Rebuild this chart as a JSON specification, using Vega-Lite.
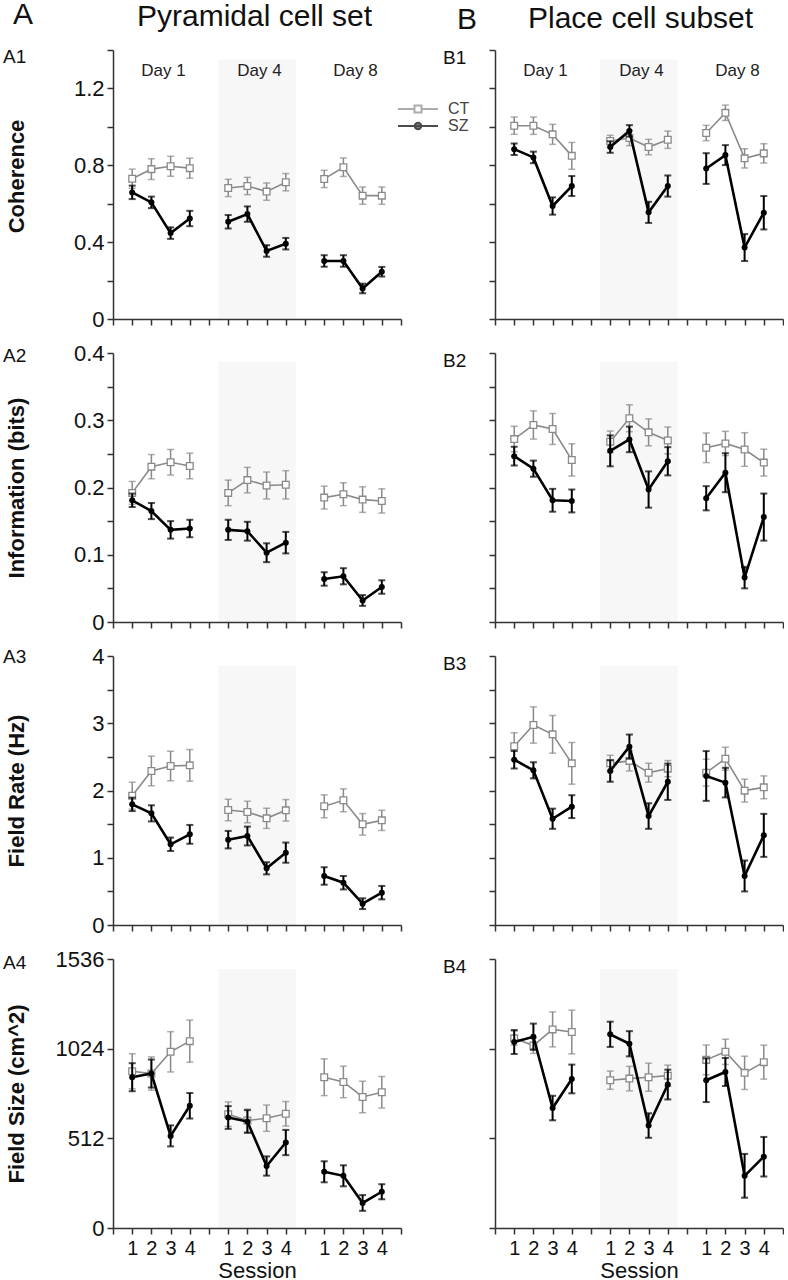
{
"$schema":"https://vega.github.io/schema/vega-lite/v6.json",
"padding":{"left":3,"top":0,"right":0,"bottom":0},
"autosize":{"type":"pad"},
"datasets":{"d":[
{"p":"A1","s":"1-1","d":"Day 1","g":"CT","v":0.73,"e":0.05},{"p":"A1","s":"1-2","d":"Day 1","g":"CT","v":0.78,"e":0.054},{"p":"A1","s":"1-3","d":"Day 1","g":"CT","v":0.795,"e":0.052},{"p":"A1","s":"1-4","d":"Day 1","g":"CT","v":0.785,"e":0.052},
{"p":"A1","s":"4-1","d":"Day 4","g":"CT","v":0.682,"e":0.045},{"p":"A1","s":"4-2","d":"Day 4","g":"CT","v":0.692,"e":0.045},{"p":"A1","s":"4-3","d":"Day 4","g":"CT","v":0.663,"e":0.045},{"p":"A1","s":"4-4","d":"Day 4","g":"CT","v":0.712,"e":0.045},
{"p":"A1","s":"8-1","d":"Day 8","g":"CT","v":0.729,"e":0.045},{"p":"A1","s":"8-2","d":"Day 8","g":"CT","v":0.79,"e":0.048},{"p":"A1","s":"8-3","d":"Day 8","g":"CT","v":0.642,"e":0.045},{"p":"A1","s":"8-4","d":"Day 8","g":"CT","v":0.642,"e":0.045},
{"p":"A1","s":"1-1","d":"Day 1","g":"SZ","v":0.659,"e":0.035},{"p":"A1","s":"1-2","d":"Day 1","g":"SZ","v":0.607,"e":0.03},{"p":"A1","s":"1-3","d":"Day 1","g":"SZ","v":0.447,"e":0.03},{"p":"A1","s":"1-4","d":"Day 1","g":"SZ","v":0.523,"e":0.04},
{"p":"A1","s":"4-1","d":"Day 4","g":"SZ","v":0.506,"e":0.035},{"p":"A1","s":"4-2","d":"Day 4","g":"SZ","v":0.546,"e":0.04},{"p":"A1","s":"4-3","d":"Day 4","g":"SZ","v":0.354,"e":0.03},{"p":"A1","s":"4-4","d":"Day 4","g":"SZ","v":0.392,"e":0.03},
{"p":"A1","s":"8-1","d":"Day 8","g":"SZ","v":0.302,"e":0.03},{"p":"A1","s":"8-2","d":"Day 8","g":"SZ","v":0.302,"e":0.03},{"p":"A1","s":"8-3","d":"Day 8","g":"SZ","v":0.159,"e":0.025},{"p":"A1","s":"8-4","d":"Day 8","g":"SZ","v":0.246,"e":0.025},
{"p":"B1","s":"1-1","d":"Day 1","g":"CT","v":1.006,"e":0.045},{"p":"B1","s":"1-2","d":"Day 1","g":"CT","v":1.006,"e":0.045},{"p":"B1","s":"1-3","d":"Day 1","g":"CT","v":0.961,"e":0.052},{"p":"B1","s":"1-4","d":"Day 1","g":"CT","v":0.849,"e":0.07},
{"p":"B1","s":"4-1","d":"Day 4","g":"CT","v":0.926,"e":0.03},{"p":"B1","s":"4-2","d":"Day 4","g":"CT","v":0.942,"e":0.04},{"p":"B1","s":"4-3","d":"Day 4","g":"CT","v":0.895,"e":0.04},{"p":"B1","s":"4-4","d":"Day 4","g":"CT","v":0.933,"e":0.045},
{"p":"B1","s":"8-1","d":"Day 8","g":"CT","v":0.968,"e":0.04},{"p":"B1","s":"8-2","d":"Day 8","g":"CT","v":1.073,"e":0.04},{"p":"B1","s":"8-3","d":"Day 8","g":"CT","v":0.836,"e":0.05},{"p":"B1","s":"8-4","d":"Day 8","g":"CT","v":0.862,"e":0.05},
{"p":"B1","s":"1-1","d":"Day 1","g":"SZ","v":0.884,"e":0.03},{"p":"B1","s":"1-2","d":"Day 1","g":"SZ","v":0.841,"e":0.03},{"p":"B1","s":"1-3","d":"Day 1","g":"SZ","v":0.588,"e":0.045},{"p":"B1","s":"1-4","d":"Day 1","g":"SZ","v":0.692,"e":0.052},
{"p":"B1","s":"4-1","d":"Day 4","g":"SZ","v":0.895,"e":0.03},{"p":"B1","s":"4-2","d":"Day 4","g":"SZ","v":0.979,"e":0.03},{"p":"B1","s":"4-3","d":"Day 4","g":"SZ","v":0.555,"e":0.055},{"p":"B1","s":"4-4","d":"Day 4","g":"SZ","v":0.692,"e":0.055},
{"p":"B1","s":"8-1","d":"Day 8","g":"SZ","v":0.783,"e":0.08},{"p":"B1","s":"8-2","d":"Day 8","g":"SZ","v":0.853,"e":0.052},{"p":"B1","s":"8-3","d":"Day 8","g":"SZ","v":0.372,"e":0.07},{"p":"B1","s":"8-4","d":"Day 8","g":"SZ","v":0.553,"e":0.087},
{"p":"A2","s":"1-1","d":"Day 1","g":"CT","v":0.192,"e":0.017},{"p":"A2","s":"1-2","d":"Day 1","g":"CT","v":0.231,"e":0.018},{"p":"A2","s":"1-3","d":"Day 1","g":"CT","v":0.2375,"e":0.019},{"p":"A2","s":"1-4","d":"Day 1","g":"CT","v":0.232,"e":0.019},
{"p":"A2","s":"4-1","d":"Day 4","g":"CT","v":0.192,"e":0.019},{"p":"A2","s":"4-2","d":"Day 4","g":"CT","v":0.211,"e":0.019},{"p":"A2","s":"4-3","d":"Day 4","g":"CT","v":0.203,"e":0.02},{"p":"A2","s":"4-4","d":"Day 4","g":"CT","v":0.204,"e":0.021},
{"p":"A2","s":"8-1","d":"Day 8","g":"CT","v":0.185,"e":0.017},{"p":"A2","s":"8-2","d":"Day 8","g":"CT","v":0.19,"e":0.017},{"p":"A2","s":"8-3","d":"Day 8","g":"CT","v":0.182,"e":0.019},{"p":"A2","s":"8-4","d":"Day 8","g":"CT","v":0.18,"e":0.018},
{"p":"A2","s":"1-1","d":"Day 1","g":"SZ","v":0.181,"e":0.01},{"p":"A2","s":"1-2","d":"Day 1","g":"SZ","v":0.165,"e":0.012},{"p":"A2","s":"1-3","d":"Day 1","g":"SZ","v":0.137,"e":0.013},{"p":"A2","s":"1-4","d":"Day 1","g":"SZ","v":0.139,"e":0.013},
{"p":"A2","s":"4-1","d":"Day 4","g":"SZ","v":0.137,"e":0.015},{"p":"A2","s":"4-2","d":"Day 4","g":"SZ","v":0.135,"e":0.014},{"p":"A2","s":"4-3","d":"Day 4","g":"SZ","v":0.103,"e":0.014},{"p":"A2","s":"4-4","d":"Day 4","g":"SZ","v":0.118,"e":0.016},
{"p":"A2","s":"8-1","d":"Day 8","g":"SZ","v":0.064,"e":0.01},{"p":"A2","s":"8-2","d":"Day 8","g":"SZ","v":0.068,"e":0.012},{"p":"A2","s":"8-3","d":"Day 8","g":"SZ","v":0.032,"e":0.008},{"p":"A2","s":"8-4","d":"Day 8","g":"SZ","v":0.052,"e":0.01},
{"p":"B2","s":"1-1","d":"Day 1","g":"CT","v":0.272,"e":0.019},{"p":"B2","s":"1-2","d":"Day 1","g":"CT","v":0.293,"e":0.021},{"p":"B2","s":"1-3","d":"Day 1","g":"CT","v":0.287,"e":0.023},{"p":"B2","s":"1-4","d":"Day 1","g":"CT","v":0.241,"e":0.024},
{"p":"B2","s":"4-1","d":"Day 4","g":"CT","v":0.268,"e":0.016},{"p":"B2","s":"4-2","d":"Day 4","g":"CT","v":0.303,"e":0.02},{"p":"B2","s":"4-3","d":"Day 4","g":"CT","v":0.282,"e":0.02},{"p":"B2","s":"4-4","d":"Day 4","g":"CT","v":0.27,"e":0.02},
{"p":"B2","s":"8-1","d":"Day 8","g":"CT","v":0.259,"e":0.022},{"p":"B2","s":"8-2","d":"Day 8","g":"CT","v":0.2655,"e":0.018},{"p":"B2","s":"8-3","d":"Day 8","g":"CT","v":0.2565,"e":0.025},{"p":"B2","s":"8-4","d":"Day 8","g":"CT","v":0.237,"e":0.02},
{"p":"B2","s":"1-1","d":"Day 1","g":"SZ","v":0.2466,"e":0.014},{"p":"B2","s":"1-2","d":"Day 1","g":"SZ","v":0.228,"e":0.012},{"p":"B2","s":"1-3","d":"Day 1","g":"SZ","v":0.181,"e":0.017},{"p":"B2","s":"1-4","d":"Day 1","g":"SZ","v":0.18,"e":0.017},
{"p":"B2","s":"4-1","d":"Day 4","g":"SZ","v":0.2545,"e":0.023},{"p":"B2","s":"4-2","d":"Day 4","g":"SZ","v":0.2715,"e":0.019},{"p":"B2","s":"4-3","d":"Day 4","g":"SZ","v":0.197,"e":0.027},{"p":"B2","s":"4-4","d":"Day 4","g":"SZ","v":0.239,"e":0.021},
{"p":"B2","s":"8-1","d":"Day 8","g":"SZ","v":0.184,"e":0.018},{"p":"B2","s":"8-2","d":"Day 8","g":"SZ","v":0.222,"e":0.029},{"p":"B2","s":"8-3","d":"Day 8","g":"SZ","v":0.066,"e":0.016},{"p":"B2","s":"8-4","d":"Day 8","g":"SZ","v":0.156,"e":0.035},
{"p":"A3","s":"1-1","d":"Day 1","g":"CT","v":1.923,"e":0.2},{"p":"A3","s":"1-2","d":"Day 1","g":"CT","v":2.29,"e":0.22},{"p":"A3","s":"1-3","d":"Day 1","g":"CT","v":2.364,"e":0.22},{"p":"A3","s":"1-4","d":"Day 1","g":"CT","v":2.374,"e":0.235},
{"p":"A3","s":"4-1","d":"Day 4","g":"CT","v":1.71,"e":0.16},{"p":"A3","s":"4-2","d":"Day 4","g":"CT","v":1.68,"e":0.16},{"p":"A3","s":"4-3","d":"Day 4","g":"CT","v":1.586,"e":0.15},{"p":"A3","s":"4-4","d":"Day 4","g":"CT","v":1.705,"e":0.16},
{"p":"A3","s":"8-1","d":"Day 8","g":"CT","v":1.765,"e":0.17},{"p":"A3","s":"8-2","d":"Day 8","g":"CT","v":1.854,"e":0.17},{"p":"A3","s":"8-3","d":"Day 8","g":"CT","v":1.497,"e":0.16},{"p":"A3","s":"8-4","d":"Day 8","g":"CT","v":1.556,"e":0.15},
{"p":"A3","s":"1-1","d":"Day 1","g":"SZ","v":1.794,"e":0.1},{"p":"A3","s":"1-2","d":"Day 1","g":"SZ","v":1.66,"e":0.12},{"p":"A3","s":"1-3","d":"Day 1","g":"SZ","v":1.2,"e":0.1},{"p":"A3","s":"1-4","d":"Day 1","g":"SZ","v":1.348,"e":0.14},
{"p":"A3","s":"4-1","d":"Day 4","g":"SZ","v":1.269,"e":0.13},{"p":"A3","s":"4-2","d":"Day 4","g":"SZ","v":1.323,"e":0.14},{"p":"A3","s":"4-3","d":"Day 4","g":"SZ","v":0.843,"e":0.09},{"p":"A3","s":"4-4","d":"Day 4","g":"SZ","v":1.076,"e":0.15},
{"p":"A3","s":"8-1","d":"Day 8","g":"SZ","v":0.729,"e":0.13},{"p":"A3","s":"8-2","d":"Day 8","g":"SZ","v":0.629,"e":0.1},{"p":"A3","s":"8-3","d":"Day 8","g":"SZ","v":0.317,"e":0.08},{"p":"A3","s":"8-4","d":"Day 8","g":"SZ","v":0.481,"e":0.1},
{"p":"B3","s":"1-1","d":"Day 1","g":"CT","v":2.657,"e":0.2},{"p":"B3","s":"1-2","d":"Day 1","g":"CT","v":2.974,"e":0.27},{"p":"B3","s":"1-3","d":"Day 1","g":"CT","v":2.835,"e":0.28},{"p":"B3","s":"1-4","d":"Day 1","g":"CT","v":2.404,"e":0.31},
{"p":"B3","s":"4-1","d":"Day 4","g":"CT","v":2.404,"e":0.12},{"p":"B3","s":"4-2","d":"Day 4","g":"CT","v":2.44,"e":0.15},{"p":"B3","s":"4-3","d":"Day 4","g":"CT","v":2.265,"e":0.14},{"p":"B3","s":"4-4","d":"Day 4","g":"CT","v":2.325,"e":0.12},
{"p":"B3","s":"8-1","d":"Day 8","g":"CT","v":2.265,"e":0.2},{"p":"B3","s":"8-2","d":"Day 8","g":"CT","v":2.473,"e":0.17},{"p":"B3","s":"8-3","d":"Day 8","g":"CT","v":1.998,"e":0.17},{"p":"B3","s":"8-4","d":"Day 8","g":"CT","v":2.047,"e":0.17},
{"p":"B3","s":"1-1","d":"Day 1","g":"SZ","v":2.458,"e":0.13},{"p":"B3","s":"1-2","d":"Day 1","g":"SZ","v":2.3,"e":0.12},{"p":"B3","s":"1-3","d":"Day 1","g":"SZ","v":1.58,"e":0.15},{"p":"B3","s":"1-4","d":"Day 1","g":"SZ","v":1.76,"e":0.17},
{"p":"B3","s":"4-1","d":"Day 4","g":"SZ","v":2.29,"e":0.16},{"p":"B3","s":"4-2","d":"Day 4","g":"SZ","v":2.652,"e":0.18},{"p":"B3","s":"4-3","d":"Day 4","g":"SZ","v":1.62,"e":0.19},{"p":"B3","s":"4-4","d":"Day 4","g":"SZ","v":2.13,"e":0.27},
{"p":"B3","s":"8-1","d":"Day 8","g":"SZ","v":2.216,"e":0.37},{"p":"B3","s":"8-2","d":"Day 8","g":"SZ","v":2.117,"e":0.22},{"p":"B3","s":"8-3","d":"Day 8","g":"SZ","v":0.729,"e":0.23},{"p":"B3","s":"8-4","d":"Day 8","g":"SZ","v":1.333,"e":0.32},
{"p":"A4","s":"1-1","d":"Day 1","g":"CT","v":895,"e":100},{"p":"A4","s":"1-2","d":"Day 1","g":"CT","v":882,"e":95},{"p":"A4","s":"1-3","d":"Day 1","g":"CT","v":1006,"e":115},{"p":"A4","s":"1-4","d":"Day 1","g":"CT","v":1067,"e":120},
{"p":"A4","s":"4-1","d":"Day 4","g":"CT","v":650,"e":70},{"p":"A4","s":"4-2","d":"Day 4","g":"CT","v":614,"e":65},{"p":"A4","s":"4-3","d":"Day 4","g":"CT","v":627,"e":75},{"p":"A4","s":"4-4","d":"Day 4","g":"CT","v":652,"e":70},
{"p":"A4","s":"8-1","d":"Day 8","g":"CT","v":861,"e":105},{"p":"A4","s":"8-2","d":"Day 8","g":"CT","v":834,"e":90},{"p":"A4","s":"8-3","d":"Day 8","g":"CT","v":748,"e":90},{"p":"A4","s":"8-4","d":"Day 8","g":"CT","v":775,"e":90},
{"p":"A4","s":"1-1","d":"Day 1","g":"SZ","v":861,"e":80},{"p":"A4","s":"1-2","d":"Day 1","g":"SZ","v":882,"e":80},{"p":"A4","s":"1-3","d":"Day 1","g":"SZ","v":526,"e":60},{"p":"A4","s":"1-4","d":"Day 1","g":"SZ","v":698,"e":73},
{"p":"A4","s":"4-1","d":"Day 4","g":"SZ","v":631,"e":65},{"p":"A4","s":"4-2","d":"Day 4","g":"SZ","v":608,"e":65},{"p":"A4","s":"4-3","d":"Day 4","g":"SZ","v":354,"e":55},{"p":"A4","s":"4-4","d":"Day 4","g":"SZ","v":488,"e":72},
{"p":"A4","s":"8-1","d":"Day 8","g":"SZ","v":321,"e":60},{"p":"A4","s":"8-2","d":"Day 8","g":"SZ","v":298,"e":60},{"p":"A4","s":"8-3","d":"Day 8","g":"SZ","v":143,"e":45},{"p":"A4","s":"8-4","d":"Day 8","g":"SZ","v":207,"e":43},
{"p":"B4","s":"1-1","d":"Day 1","g":"CT","v":1083,"e":40},{"p":"B4","s":"1-2","d":"Day 1","g":"CT","v":1042,"e":45},{"p":"B4","s":"1-3","d":"Day 1","g":"CT","v":1134,"e":100},{"p":"B4","s":"1-4","d":"Day 1","g":"CT","v":1119,"e":125},
{"p":"B4","s":"4-1","d":"Day 4","g":"CT","v":844,"e":52},{"p":"B4","s":"4-2","d":"Day 4","g":"CT","v":853,"e":70},{"p":"B4","s":"4-3","d":"Day 4","g":"CT","v":861,"e":80},{"p":"B4","s":"4-4","d":"Day 4","g":"CT","v":870,"e":60},
{"p":"B4","s":"8-1","d":"Day 8","g":"CT","v":960,"e":85},{"p":"B4","s":"8-2","d":"Day 8","g":"CT","v":1006,"e":72},{"p":"B4","s":"8-3","d":"Day 8","g":"CT","v":886,"e":95},{"p":"B4","s":"8-4","d":"Day 8","g":"CT","v":947,"e":97},
{"p":"B4","s":"1-1","d":"Day 1","g":"SZ","v":1062,"e":68},{"p":"B4","s":"1-2","d":"Day 1","g":"SZ","v":1092,"e":75},{"p":"B4","s":"1-3","d":"Day 1","g":"SZ","v":685,"e":70},{"p":"B4","s":"1-4","d":"Day 1","g":"SZ","v":851,"e":82},
{"p":"B4","s":"4-1","d":"Day 4","g":"SZ","v":1106,"e":72},{"p":"B4","s":"4-2","d":"Day 4","g":"SZ","v":1052,"e":72},{"p":"B4","s":"4-3","d":"Day 4","g":"SZ","v":585,"e":70},{"p":"B4","s":"4-4","d":"Day 4","g":"SZ","v":819,"e":85},
{"p":"B4","s":"8-1","d":"Day 8","g":"SZ","v":844,"e":125},{"p":"B4","s":"8-2","d":"Day 8","g":"SZ","v":891,"e":80},{"p":"B4","s":"8-3","d":"Day 8","g":"SZ","v":298,"e":125},{"p":"B4","s":"8-4","d":"Day 8","g":"SZ","v":407,"e":113}
]},
"spacing":382,
"bounds":"flush",
"hconcat":[
{"title":{"text":"A","anchor":"start","frame":"group","fontSize":30,"baseline":"alphabetic","dx":-100,"dy":52,"offset":0},
 "bounds":"flush","spacing":0,
 "vconcat":[
 {"title":{"text":"Pyramidal cell set","anchor":"start","frame":"group","fontSize":30,"baseline":"alphabetic","dx":24,"dy":41,"offset":24},
  "bounds":"flush","spacing":34,
  "vconcat":[
  {"width":288,"height":269,
   "title":{"text":"A1","anchor":"start","frame":"group","dx":-110,"dy":28,"fontSize":19,"baseline":"top","offset":0},
   "data":{"name":"d"},"transform":[{"filter":"datum.p=='A1'"}],
   "encoding":{
    "x":{"field":"s","type":"ordinal","scale":{"type":"point","padding":0,"domain":["0","1-1","1-2","1-3","1-4","g1","4-1","4-2","4-3","4-4","g2","8-1","8-2","8-3","8-4","15"]},"axis":{"labels":false,"title":null}},
    "y":{"field":"v","type":"quantitative","scale":{"domain":[0,1.4],"nice":false},"axis":{"values":[0,0.2,0.4,0.6,0.8,1,1.2,1.4],"labelExpr":"datum.value==0 ? '0' : (indexof([0.4,0.8,1.2], datum.value)>=0 ? format(datum.value,'.1f') : '')","title":"Coherence","titleY":126}}},
   "layer":[
    {"transform":[{"filter":"datum.d=='Day 4' && datum.g=='CT'"}],"mark":{"type":"rect","color":"#f7f7f7","width":19.8},"encoding":{"y":{"datum":1.35,"type":"quantitative"},"y2":{"datum":0}}},
    {"transform":[{"filter":"datum.g=='CT'"}],"mark":{"type":"line","color":"#8a8a8a","strokeWidth":1.6},"encoding":{"detail":{"field":"d"}}},
    {"transform":[{"filter":"datum.g=='CT'"}],"mark":{"type":"errorbar","color":"#8a8a8a","thickness":1.5,"ticks":{"size":7}},"encoding":{"yError":{"field":"e"}}},
    {"transform":[{"filter":"datum.g=='CT'"}],"mark":{"type":"point","shape":"square","filled":true,"fill":"#ffffff","stroke":"#8a8a8a","strokeWidth":1.3,"size":45,"opacity":1}},
    {"transform":[{"filter":"datum.g=='SZ'"}],"mark":{"type":"line","color":"#000000","strokeWidth":2.6},"encoding":{"detail":{"field":"d"}}},
    {"transform":[{"filter":"datum.g=='SZ'"}],"mark":{"type":"errorbar","color":"#000000","thickness":2,"ticks":{"size":7}},"encoding":{"yError":{"field":"e"}}},
    {"transform":[{"filter":"datum.g=='SZ'"}],"mark":{"type":"point","shape":"circle","filled":true,"color":"#000000","size":36,"opacity":1}},
    {"transform":[{"filter":"datum.g=='CT' && indexof(['1-2','4-2','8-2'], datum.s)>=0"}],"mark":{"type":"text","fontSize":17,"color":"#222222","dx":12,"baseline":"middle"},"encoding":{"y":{"datum":1.29,"type":"quantitative"},"text":{"field":"d"}}},
    {"transform":[{"filter":"false"}],"mark":{"type":"point","filled":true},
     "encoding":{
      "shape":{"field":"g","type":"nominal","scale":{"domain":["CT","SZ"],"range":["M-4,0H-0.7M0.7,0H4M-0.7,-0.7H0.7V0.7H-0.7Z","M-4,0H4M0.65,0A0.65,0.65 0 1,1 -0.65,0A0.65,0.65 0 1,1 0.65,0Z"]},"legend":{"title":null,"orient":"none","legendX":297,"legendY":51,"symbolStrokeWidth":2,"symbolSize":100,"labelFontSize":16,"labelColor":"#444444","labelOffset":22,"rowPadding":1,"padding":0}},
      "stroke":{"field":"g","type":"nominal","scale":{"domain":["CT","SZ"],"range":["#8a8a8a","#000000"]},"legend":{"title":null,"orient":"none","legendX":297,"legendY":51,"symbolStrokeWidth":2,"symbolSize":100,"labelFontSize":16,"labelColor":"#444444","labelOffset":22,"rowPadding":1,"padding":0}},
      "fill":{"field":"g","type":"nominal","scale":{"domain":["CT","SZ"],"range":["#ffffff","#000000"]},"legend":{"title":null,"orient":"none","legendX":297,"legendY":51,"symbolStrokeWidth":2,"symbolSize":100,"labelFontSize":16,"labelColor":"#444444","labelOffset":22,"rowPadding":1,"padding":0}}}}
   ]},
  {"width":288,"height":269,
   "title":{"text":"A2","anchor":"start","frame":"group","dx":-110,"dy":24,"fontSize":19,"baseline":"top","offset":0},
   "data":{"name":"d"},"transform":[{"filter":"datum.p=='A2'"}],
   "encoding":{
    "x":{"field":"s","type":"ordinal","scale":{"type":"point","padding":0,"domain":["0","1-1","1-2","1-3","1-4","g1","4-1","4-2","4-3","4-4","g2","8-1","8-2","8-3","8-4","15"]},"axis":{"labels":false,"title":null}},
    "y":{"field":"v","type":"quantitative","scale":{"domain":[0,0.4],"nice":false},"axis":{"values":[0,0.05,0.1,0.15,0.2,0.25,0.3,0.35,0.4],"labelExpr":"datum.value==0 ? '0' : (indexof([0.1,0.2,0.3,0.4], datum.value)>=0 ? format(datum.value,'.1f') : '')","title":"Information (bits)"}}},
   "layer":[
    {"transform":[{"filter":"datum.d=='Day 4' && datum.g=='CT'"}],"mark":{"type":"rect","color":"#f7f7f7","width":19.8},"encoding":{"y":{"datum":0.387,"type":"quantitative"},"y2":{"datum":0}}},
    {"transform":[{"filter":"datum.g=='CT'"}],"mark":{"type":"line","color":"#8a8a8a","strokeWidth":1.6},"encoding":{"detail":{"field":"d"}}},
    {"transform":[{"filter":"datum.g=='CT'"}],"mark":{"type":"errorbar","color":"#8a8a8a","thickness":1.5,"ticks":{"size":7}},"encoding":{"yError":{"field":"e"}}},
    {"transform":[{"filter":"datum.g=='CT'"}],"mark":{"type":"point","shape":"square","filled":true,"fill":"#ffffff","stroke":"#8a8a8a","strokeWidth":1.3,"size":45,"opacity":1}},
    {"transform":[{"filter":"datum.g=='SZ'"}],"mark":{"type":"line","color":"#000000","strokeWidth":2.6},"encoding":{"detail":{"field":"d"}}},
    {"transform":[{"filter":"datum.g=='SZ'"}],"mark":{"type":"errorbar","color":"#000000","thickness":2,"ticks":{"size":7}},"encoding":{"yError":{"field":"e"}}},
    {"transform":[{"filter":"datum.g=='SZ'"}],"mark":{"type":"point","shape":"circle","filled":true,"color":"#000000","size":36,"opacity":1}}
   ]},
  {"width":288,"height":269,
   "title":{"text":"A3","anchor":"start","frame":"group","dx":-110,"dy":22,"fontSize":19,"baseline":"top","offset":0},
   "data":{"name":"d"},"transform":[{"filter":"datum.p=='A3'"}],
   "encoding":{
    "x":{"field":"s","type":"ordinal","scale":{"type":"point","padding":0,"domain":["0","1-1","1-2","1-3","1-4","g1","4-1","4-2","4-3","4-4","g2","8-1","8-2","8-3","8-4","15"]},"axis":{"labels":false,"title":null}},
    "y":{"field":"v","type":"quantitative","scale":{"domain":[0,4],"nice":false},"axis":{"values":[0,0.5,1,1.5,2,2.5,3,3.5,4],"labelExpr":"datum.value%1==0 ? format(datum.value,'d') : ''","title":"Field Rate (Hz)"}}},
   "layer":[
    {"transform":[{"filter":"datum.d=='Day 4' && datum.g=='CT'"}],"mark":{"type":"rect","color":"#f7f7f7","width":19.8},"encoding":{"y":{"datum":3.85,"type":"quantitative"},"y2":{"datum":0}}},
    {"transform":[{"filter":"datum.g=='CT'"}],"mark":{"type":"line","color":"#8a8a8a","strokeWidth":1.6},"encoding":{"detail":{"field":"d"}}},
    {"transform":[{"filter":"datum.g=='CT'"}],"mark":{"type":"errorbar","color":"#8a8a8a","thickness":1.5,"ticks":{"size":7}},"encoding":{"yError":{"field":"e"}}},
    {"transform":[{"filter":"datum.g=='CT'"}],"mark":{"type":"point","shape":"square","filled":true,"fill":"#ffffff","stroke":"#8a8a8a","strokeWidth":1.3,"size":45,"opacity":1}},
    {"transform":[{"filter":"datum.g=='SZ'"}],"mark":{"type":"line","color":"#000000","strokeWidth":2.6},"encoding":{"detail":{"field":"d"}}},
    {"transform":[{"filter":"datum.g=='SZ'"}],"mark":{"type":"errorbar","color":"#000000","thickness":2,"ticks":{"size":7}},"encoding":{"yError":{"field":"e"}}},
    {"transform":[{"filter":"datum.g=='SZ'"}],"mark":{"type":"point","shape":"circle","filled":true,"color":"#000000","size":36,"opacity":1}}
   ]},
  {"width":288,"height":269,
   "title":{"text":"A4","anchor":"start","frame":"group","dx":-110,"dy":25,"fontSize":19,"baseline":"top","offset":0},
   "data":{"name":"d"},"transform":[{"filter":"datum.p=='A4'"}],
   "encoding":{
    "x":{"field":"s","type":"ordinal","scale":{"type":"point","padding":0,"domain":["0","1-1","1-2","1-3","1-4","g1","4-1","4-2","4-3","4-4","g2","8-1","8-2","8-3","8-4","15"]},"axis":{"labelExpr":"indexof(datum.value,'-')>0 ? substring(datum.value, indexof(datum.value,'-')+1) : ''","title":"Session"}},
    "y":{"field":"v","type":"quantitative","scale":{"domain":[0,1536],"nice":false},"axis":{"values":[0,512,1024,1536],"format":"d","title":"Field Size (cm^2)"}}},
   "layer":[
    {"transform":[{"filter":"datum.d=='Day 4' && datum.g=='CT'"}],"mark":{"type":"rect","color":"#f7f7f7","width":19.8},"encoding":{"y":{"datum":1479,"type":"quantitative"},"y2":{"datum":0}}},
    {"transform":[{"filter":"datum.g=='CT'"}],"mark":{"type":"line","color":"#8a8a8a","strokeWidth":1.6},"encoding":{"detail":{"field":"d"}}},
    {"transform":[{"filter":"datum.g=='CT'"}],"mark":{"type":"errorbar","color":"#8a8a8a","thickness":1.5,"ticks":{"size":7}},"encoding":{"yError":{"field":"e"}}},
    {"transform":[{"filter":"datum.g=='CT'"}],"mark":{"type":"point","shape":"square","filled":true,"fill":"#ffffff","stroke":"#8a8a8a","strokeWidth":1.3,"size":45,"opacity":1}},
    {"transform":[{"filter":"datum.g=='SZ'"}],"mark":{"type":"line","color":"#000000","strokeWidth":2.6},"encoding":{"detail":{"field":"d"}}},
    {"transform":[{"filter":"datum.g=='SZ'"}],"mark":{"type":"errorbar","color":"#000000","thickness":2,"ticks":{"size":7}},"encoding":{"yError":{"field":"e"}}},
    {"transform":[{"filter":"datum.g=='SZ'"}],"mark":{"type":"point","shape":"circle","filled":true,"color":"#000000","size":36,"opacity":1}}
   ]}
  ]}
 ]},
{"title":{"text":"B","anchor":"start","frame":"group","fontSize":30,"baseline":"alphabetic","dx":-38,"dy":55,"offset":0},
 "bounds":"flush","spacing":0,
 "vconcat":[
 {"title":{"text":"Place cell subset","anchor":"start","frame":"group","fontSize":30,"baseline":"alphabetic","dx":33,"dy":33,"offset":24},
  "bounds":"flush","spacing":34,
  "vconcat":[
  {"width":288,"height":269,
   "title":{"text":"B1","anchor":"start","frame":"group","dx":-52,"dy":19,"fontSize":19,"baseline":"top","offset":0},
   "data":{"name":"d"},"transform":[{"filter":"datum.p=='B1'"}],
   "encoding":{
    "x":{"field":"s","type":"ordinal","scale":{"type":"point","padding":0,"domain":["0","1-1","1-2","1-3","1-4","g1","4-1","4-2","4-3","4-4","g2","8-1","8-2","8-3","8-4","15"]},"axis":{"labels":false,"title":null}},
    "y":{"field":"v","type":"quantitative","scale":{"domain":[0,1.4],"nice":false},"axis":{"values":[0,0.2,0.4,0.6,0.8,1,1.2,1.4],"labels":false,"title":null}}},
   "layer":[
    {"transform":[{"filter":"datum.d=='Day 4' && datum.g=='CT'"}],"mark":{"type":"rect","color":"#f7f7f7","width":19.8},"encoding":{"y":{"datum":1.35,"type":"quantitative"},"y2":{"datum":0}}},
    {"transform":[{"filter":"datum.g=='CT'"}],"mark":{"type":"line","color":"#8a8a8a","strokeWidth":1.6},"encoding":{"detail":{"field":"d"}}},
    {"transform":[{"filter":"datum.g=='CT'"}],"mark":{"type":"errorbar","color":"#8a8a8a","thickness":1.5,"ticks":{"size":7}},"encoding":{"yError":{"field":"e"}}},
    {"transform":[{"filter":"datum.g=='CT'"}],"mark":{"type":"point","shape":"square","filled":true,"fill":"#ffffff","stroke":"#8a8a8a","strokeWidth":1.3,"size":45,"opacity":1}},
    {"transform":[{"filter":"datum.g=='SZ'"}],"mark":{"type":"line","color":"#000000","strokeWidth":2.6},"encoding":{"detail":{"field":"d"}}},
    {"transform":[{"filter":"datum.g=='SZ'"}],"mark":{"type":"errorbar","color":"#000000","thickness":2,"ticks":{"size":7}},"encoding":{"yError":{"field":"e"}}},
    {"transform":[{"filter":"datum.g=='SZ'"}],"mark":{"type":"point","shape":"circle","filled":true,"color":"#000000","size":36,"opacity":1}},
    {"transform":[{"filter":"datum.g=='CT' && indexof(['1-2','4-2','8-2'], datum.s)>=0"}],"mark":{"type":"text","fontSize":17,"color":"#222222","dx":12,"baseline":"middle"},"encoding":{"y":{"datum":1.29,"type":"quantitative"},"text":{"field":"d"}}}
   ]},
  {"width":288,"height":269,
   "title":{"text":"B2","anchor":"start","frame":"group","dx":-52,"dy":19,"fontSize":19,"baseline":"top","offset":0},
   "data":{"name":"d"},"transform":[{"filter":"datum.p=='B2'"}],
   "encoding":{
    "x":{"field":"s","type":"ordinal","scale":{"type":"point","padding":0,"domain":["0","1-1","1-2","1-3","1-4","g1","4-1","4-2","4-3","4-4","g2","8-1","8-2","8-3","8-4","15"]},"axis":{"labels":false,"title":null}},
    "y":{"field":"v","type":"quantitative","scale":{"domain":[0,0.4],"nice":false},"axis":{"values":[0,0.05,0.1,0.15,0.2,0.25,0.3,0.35,0.4],"labels":false,"title":null}}},
   "layer":[
    {"transform":[{"filter":"datum.d=='Day 4' && datum.g=='CT'"}],"mark":{"type":"rect","color":"#f7f7f7","width":19.8},"encoding":{"y":{"datum":0.387,"type":"quantitative"},"y2":{"datum":0}}},
    {"transform":[{"filter":"datum.g=='CT'"}],"mark":{"type":"line","color":"#8a8a8a","strokeWidth":1.6},"encoding":{"detail":{"field":"d"}}},
    {"transform":[{"filter":"datum.g=='CT'"}],"mark":{"type":"errorbar","color":"#8a8a8a","thickness":1.5,"ticks":{"size":7}},"encoding":{"yError":{"field":"e"}}},
    {"transform":[{"filter":"datum.g=='CT'"}],"mark":{"type":"point","shape":"square","filled":true,"fill":"#ffffff","stroke":"#8a8a8a","strokeWidth":1.3,"size":45,"opacity":1}},
    {"transform":[{"filter":"datum.g=='SZ'"}],"mark":{"type":"line","color":"#000000","strokeWidth":2.6},"encoding":{"detail":{"field":"d"}}},
    {"transform":[{"filter":"datum.g=='SZ'"}],"mark":{"type":"errorbar","color":"#000000","thickness":2,"ticks":{"size":7}},"encoding":{"yError":{"field":"e"}}},
    {"transform":[{"filter":"datum.g=='SZ'"}],"mark":{"type":"point","shape":"circle","filled":true,"color":"#000000","size":36,"opacity":1}}
   ]},
  {"width":288,"height":269,
   "title":{"text":"B3","anchor":"start","frame":"group","dx":-52,"dy":19,"fontSize":19,"baseline":"top","offset":0},
   "data":{"name":"d"},"transform":[{"filter":"datum.p=='B3'"}],
   "encoding":{
    "x":{"field":"s","type":"ordinal","scale":{"type":"point","padding":0,"domain":["0","1-1","1-2","1-3","1-4","g1","4-1","4-2","4-3","4-4","g2","8-1","8-2","8-3","8-4","15"]},"axis":{"labels":false,"title":null}},
    "y":{"field":"v","type":"quantitative","scale":{"domain":[0,4],"nice":false},"axis":{"values":[0,0.5,1,1.5,2,2.5,3,3.5,4],"labels":false,"title":null}}},
   "layer":[
    {"transform":[{"filter":"datum.d=='Day 4' && datum.g=='CT'"}],"mark":{"type":"rect","color":"#f7f7f7","width":19.8},"encoding":{"y":{"datum":3.85,"type":"quantitative"},"y2":{"datum":0}}},
    {"transform":[{"filter":"datum.g=='CT'"}],"mark":{"type":"line","color":"#8a8a8a","strokeWidth":1.6},"encoding":{"detail":{"field":"d"}}},
    {"transform":[{"filter":"datum.g=='CT'"}],"mark":{"type":"errorbar","color":"#8a8a8a","thickness":1.5,"ticks":{"size":7}},"encoding":{"yError":{"field":"e"}}},
    {"transform":[{"filter":"datum.g=='CT'"}],"mark":{"type":"point","shape":"square","filled":true,"fill":"#ffffff","stroke":"#8a8a8a","strokeWidth":1.3,"size":45,"opacity":1}},
    {"transform":[{"filter":"datum.g=='SZ'"}],"mark":{"type":"line","color":"#000000","strokeWidth":2.6},"encoding":{"detail":{"field":"d"}}},
    {"transform":[{"filter":"datum.g=='SZ'"}],"mark":{"type":"errorbar","color":"#000000","thickness":2,"ticks":{"size":7}},"encoding":{"yError":{"field":"e"}}},
    {"transform":[{"filter":"datum.g=='SZ'"}],"mark":{"type":"point","shape":"circle","filled":true,"color":"#000000","size":36,"opacity":1}}
   ]},
  {"width":288,"height":269,
   "title":{"text":"B4","anchor":"start","frame":"group","dx":-52,"dy":19,"fontSize":19,"baseline":"top","offset":0},
   "data":{"name":"d"},"transform":[{"filter":"datum.p=='B4'"}],
   "encoding":{
    "x":{"field":"s","type":"ordinal","scale":{"type":"point","padding":0,"domain":["0","1-1","1-2","1-3","1-4","g1","4-1","4-2","4-3","4-4","g2","8-1","8-2","8-3","8-4","15"]},"axis":{"labelExpr":"indexof(datum.value,'-')>0 ? substring(datum.value, indexof(datum.value,'-')+1) : ''","title":"Session"}},
    "y":{"field":"v","type":"quantitative","scale":{"domain":[0,1536],"nice":false},"axis":{"values":[0,512,1024,1536],"labels":false,"title":null}}},
   "layer":[
    {"transform":[{"filter":"datum.d=='Day 4' && datum.g=='CT'"}],"mark":{"type":"rect","color":"#f7f7f7","width":19.8},"encoding":{"y":{"datum":1479,"type":"quantitative"},"y2":{"datum":0}}},
    {"transform":[{"filter":"datum.g=='CT'"}],"mark":{"type":"line","color":"#8a8a8a","strokeWidth":1.6},"encoding":{"detail":{"field":"d"}}},
    {"transform":[{"filter":"datum.g=='CT'"}],"mark":{"type":"errorbar","color":"#8a8a8a","thickness":1.5,"ticks":{"size":7}},"encoding":{"yError":{"field":"e"}}},
    {"transform":[{"filter":"datum.g=='CT'"}],"mark":{"type":"point","shape":"square","filled":true,"fill":"#ffffff","stroke":"#8a8a8a","strokeWidth":1.3,"size":45,"opacity":1}},
    {"transform":[{"filter":"datum.g=='SZ'"}],"mark":{"type":"line","color":"#000000","strokeWidth":2.6},"encoding":{"detail":{"field":"d"}}},
    {"transform":[{"filter":"datum.g=='SZ'"}],"mark":{"type":"errorbar","color":"#000000","thickness":2,"ticks":{"size":7}},"encoding":{"yError":{"field":"e"}}},
    {"transform":[{"filter":"datum.g=='SZ'"}],"mark":{"type":"point","shape":"circle","filled":true,"color":"#000000","size":36,"opacity":1}}
   ]}
  ]}
 ]}
],
"config":{
 "view":{"stroke":null},
 "font":"Liberation Sans",
 "axis":{"domainColor":"#333333","domainWidth":1.5,"tickColor":"#333333","tickWidth":1.5,"tickSize":6,"grid":false,"labelFont":"Liberation Sans","titleFont":"Liberation Sans","labelColor":"#111111","titleColor":"#111111"},
 "axisX":{"labelFontSize":20,"labelPadding":4,"labelAngle":0,"labelOverlap":false,"titleFontSize":22,"titleFontWeight":"normal","titlePadding":2},
 "axisY":{"labelFontSize":22,"labelPadding":3,"titleFontSize":22,"titleFontWeight":"bold","titleX":-90,"titleBaseline":"alphabetic","labelOverlap":false},
 "title":{"font":"Liberation Sans","color":"#111111","fontWeight":"normal"},
 "legend":{"labelFont":"Liberation Sans"}
}
}
